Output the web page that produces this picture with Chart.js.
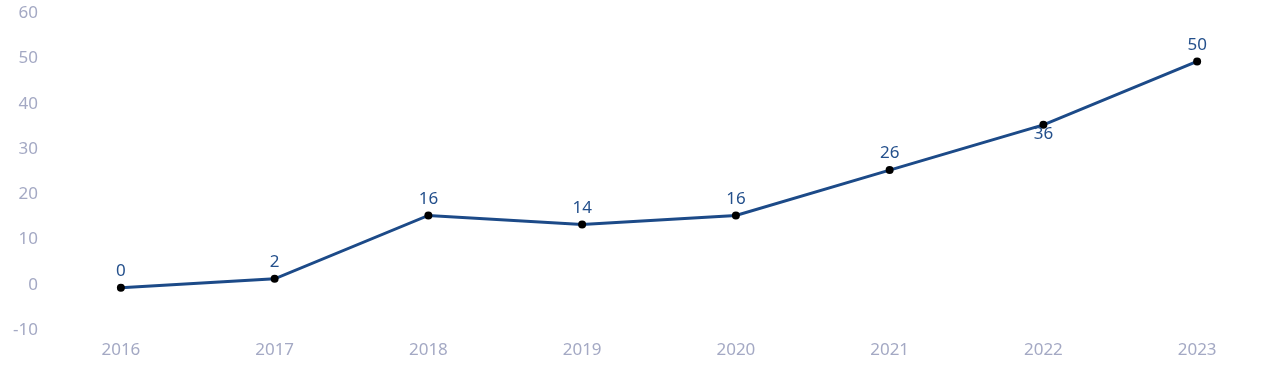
<!DOCTYPE html>
<html>
<head>
<meta charset="utf-8">
<script src="https://cdn.jsdelivr.net/npm/chart.js@4"></script>
<style>
html,body{margin:0;padding:0;background:#fff;}
#wrap{width:1280px;height:382px;position:relative;}
</style>
</head>
<body>
<div id="wrap"><canvas id="c" width="1280" height="382"></canvas></div>
<script>
const categories = ['2016','2017','2018','2019','2020','2021','2022','2023'];
const values = [0, 2, 16, 14, 16, 26, 36, 50];
const yTicks = [-10, 0, 10, 20, 30, 40, 50, 60];

const FONT = "'Noto Sans', 'Open Sans', sans-serif";
const AXIS_COLOR = '#a4a9c4';
const LINE_COLOR = '#1c4a88';
const LABEL_COLOR = '#24508c';

const valueLabels = {
  id: 'valueLabels',
  afterDatasetsDraw(chart, args, opts) {
    const ctx = chart.ctx;
    const meta = chart.getDatasetMeta(0);
    const below = opts.below || [];
    ctx.save();
    ctx.font = '17px ' + FONT;
    ctx.fillStyle = LABEL_COLOR;
    ctx.textAlign = 'center';
    meta.data.forEach((pt, i) => {
      const v = chart.data.datasets[0].data[i];
      if (below.includes(i)) {
        ctx.textBaseline = 'top';
        ctx.fillText(String(v), pt.x, pt.y + 1);
      } else {
        ctx.textBaseline = 'bottom';
        ctx.fillText(String(v), pt.x, pt.y - 8);
      }
    });
    ctx.restore();
  }
};

new Chart(document.getElementById('c'), {
  type: 'line',
  data: {
    labels: categories,
    datasets: [{
      data: values,
      borderColor: LINE_COLOR,
      borderWidth: 3,
      pointBackgroundColor: '#000',
      pointBorderColor: '#000',
      pointRadius: 4,
      pointBorderWidth: 0,
      tension: 0,
      clip: false
    }]
  },
  options: {
    responsive: false,
    animation: false,
    devicePixelRatio: 1,
    layout: { padding: { top: 15.5, right: 6, bottom: 14.5, left: 0 } },
    plugins: {
      legend: { display: false },
      tooltip: { enabled: false },
      valueLabels: { below: [6] }
    },
    scales: {
      x: {
        offset: true,
        grid: { display: false, drawTicks: false },
        border: { display: false },
        ticks: { color: AXIS_COLOR, font: { family: FONT, size: 17 }, padding: 7, maxRotation: 0 }
      },
      y: {
        min: -10, max: 60,
        afterBuildTicks(axis) { axis.ticks = yTicks.map(v => ({ value: v })); },
        afterFit(axis) { axis.width = 44; },
        grid: { display: false, drawTicks: false },
        border: { display: false },
        ticks: { color: AXIS_COLOR, font: { family: FONT, size: 17 }, padding: 6, labelOffset: -3 }
      }
    }
  },
  plugins: [valueLabels]
});
</script>
</body>
</html>
